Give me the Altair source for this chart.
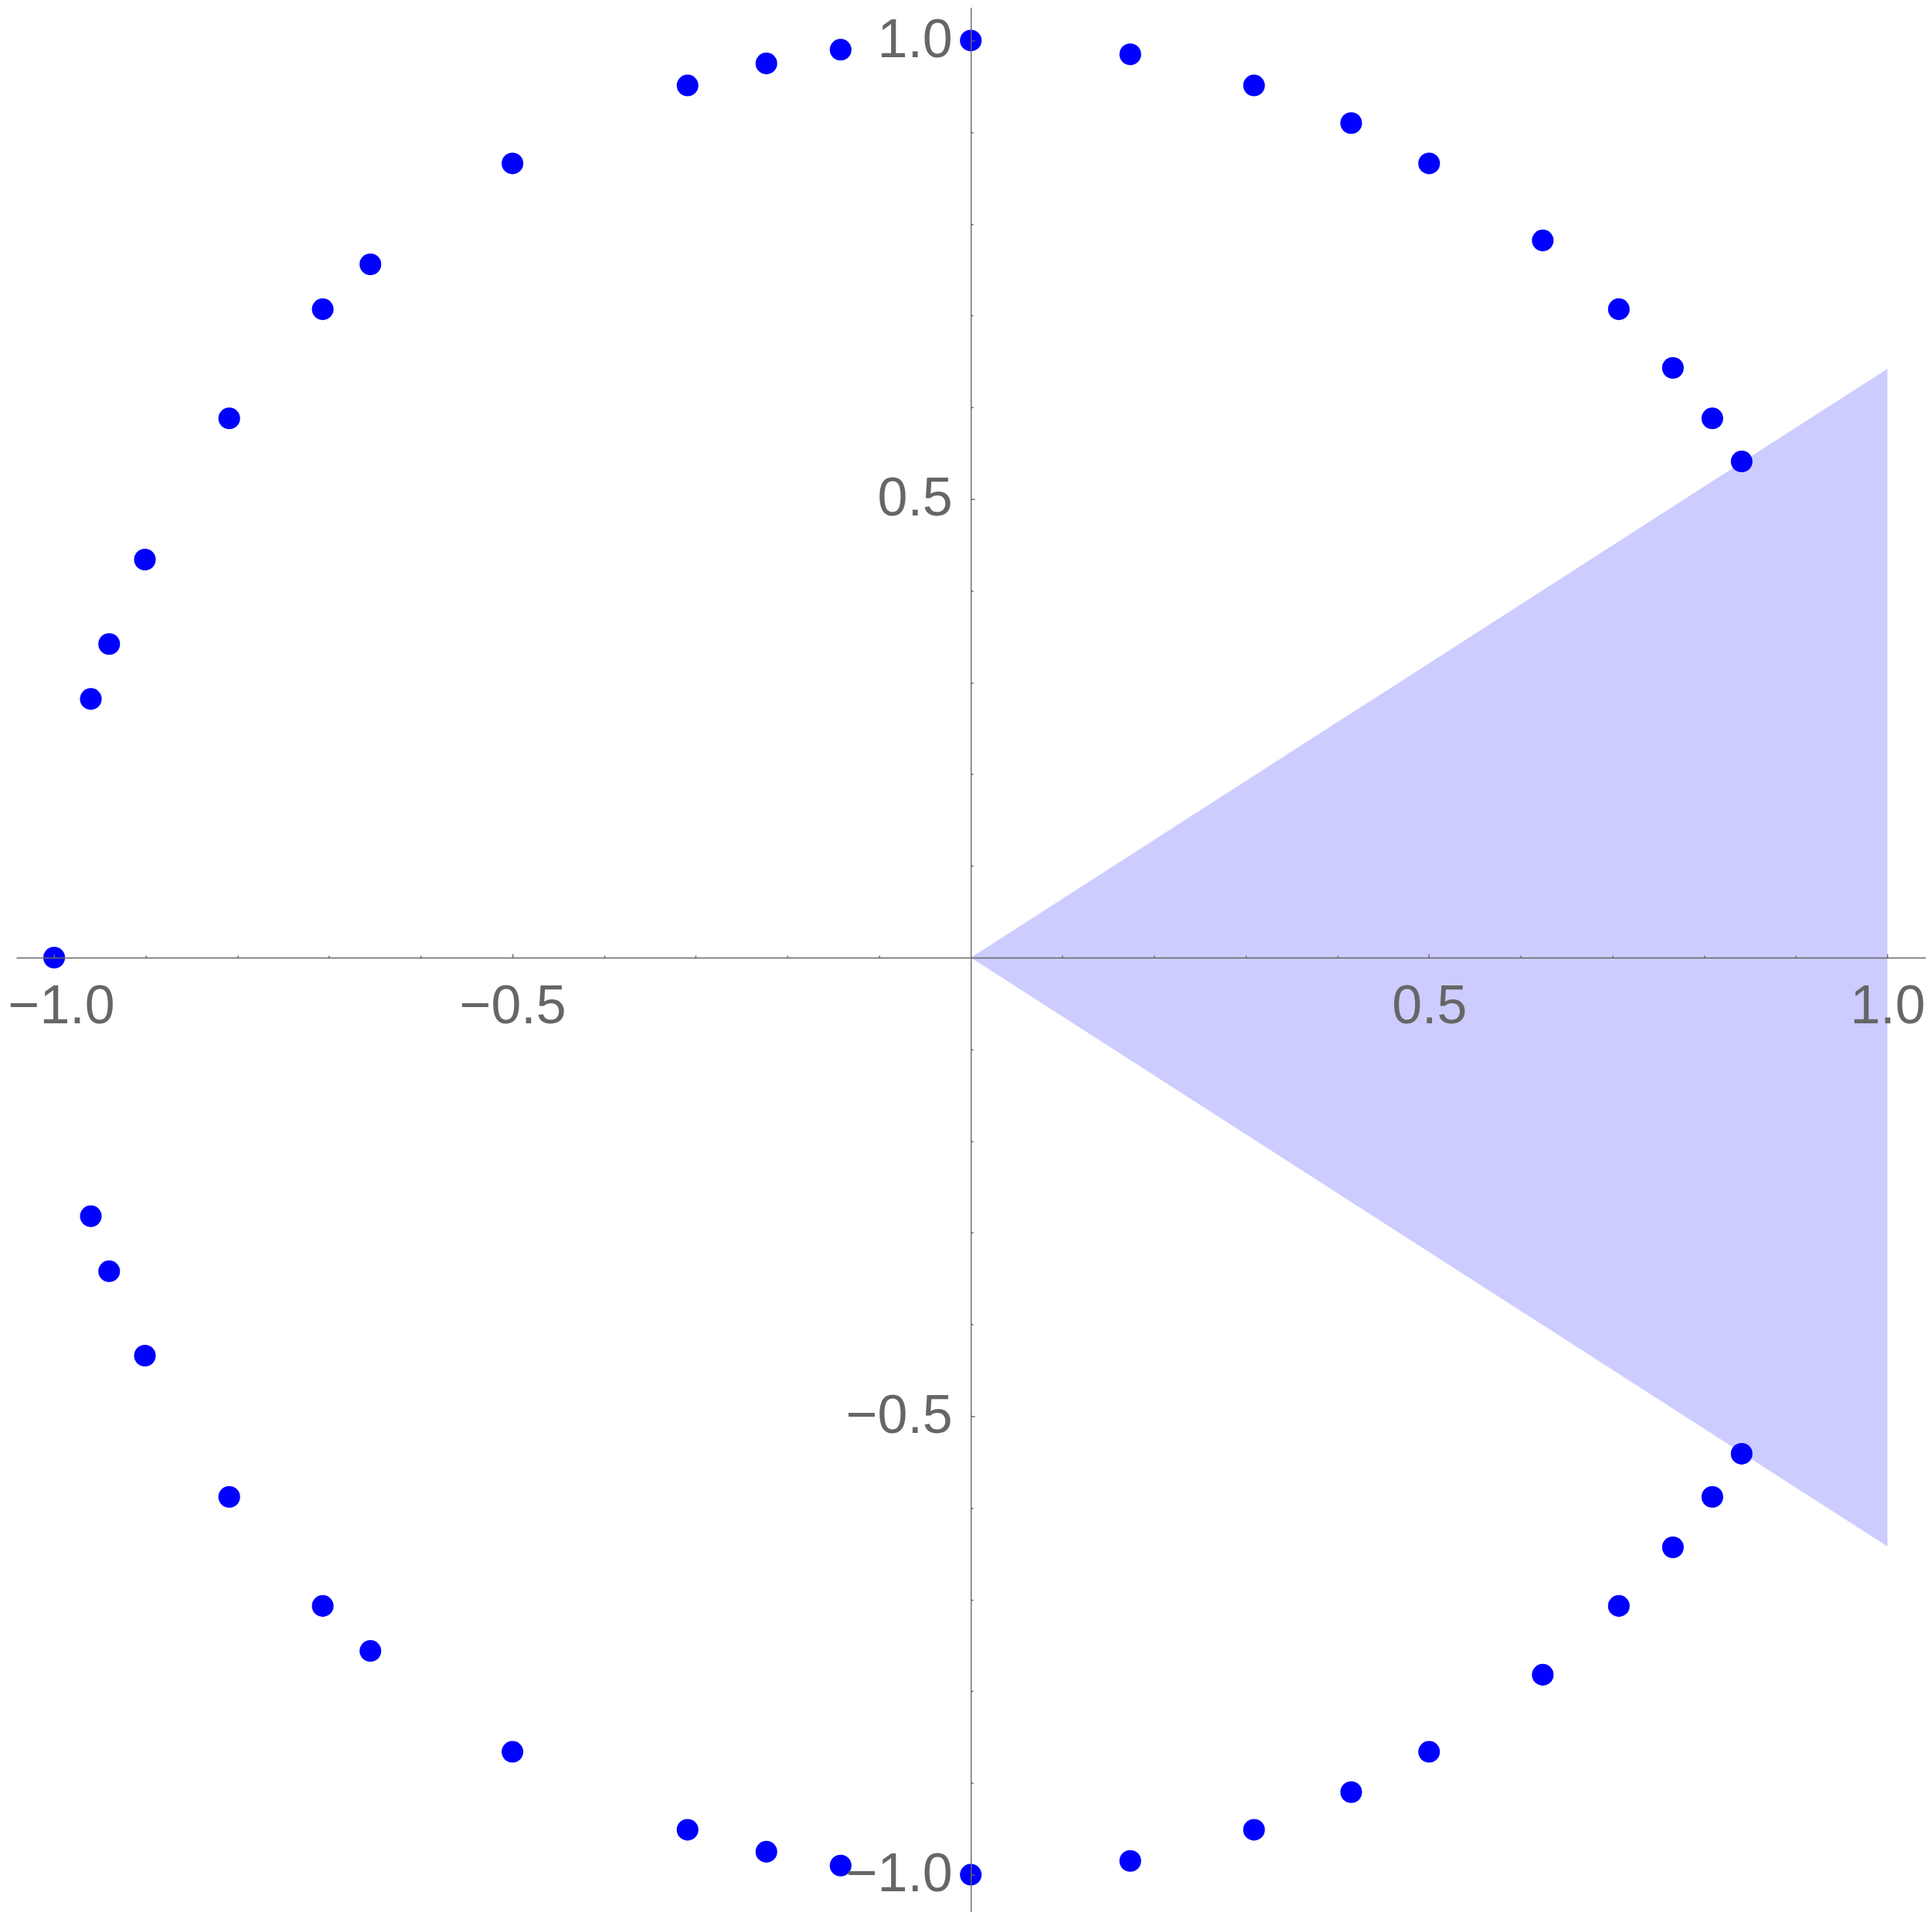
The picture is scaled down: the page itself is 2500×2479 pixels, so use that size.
import altair as alt
import pandas as pd

# Points (upper half, then lower half)
px = [0.0, -0.142, -0.223, -0.309, -0.5, -0.655, -0.707, -0.809, -0.901, -0.940, -0.960, -1.0,
      0.174, 0.309, 0.415, 0.5, 0.624, 0.707, 0.766, 0.809, 0.841,
      -0.960, -0.940, -0.901, -0.809, -0.707, -0.655, -0.5, -0.309, -0.223, -0.142, 0.0,
      0.174, 0.309, 0.415, 0.5, 0.624, 0.707, 0.766, 0.809, 0.841]
py = [1.0, 0.990, 0.975, 0.951, 0.866, 0.756, 0.707, 0.588, 0.434, 0.342, 0.282, 0.0,
      0.985, 0.951, 0.910, 0.866, 0.782, 0.707, 0.643, 0.588, 0.541,
      -0.282, -0.342, -0.434, -0.588, -0.707, -0.756, -0.866, -0.951, -0.975, -0.990, -1.0,
      -0.985, -0.951, -0.910, -0.866, -0.782, -0.707, -0.643, -0.588, -0.541]

# Shaded triangle: apex at origin, opening to x = 1
tri_x = [0.0, 1.0]
tri_top = [0.0, 0.642]
tri_bot = [0.0, -0.642]

major_ticks = [-1.0, -0.5, 0.5, 1.0]
minor_ticks = [-0.9, -0.8, -0.7, -0.6, -0.4, -0.3, -0.2, -0.1,
               0.1, 0.2, 0.3, 0.4, 0.6, 0.7, 0.8, 0.9]

W, H = 2474, 2467
xdom = [-1.0414, 1.0419]
ydom = [-1.0404, 1.0362]
x_off = -(ydom[1] / (ydom[1] - ydom[0])) * H      # put x axis at y = 0
y_off = -(W - (-xdom[0]) / (xdom[1] - xdom[0]) * W)  # put y axis at x = 0

GRAY = "#666666"
FONT = "Liberation Sans"

xscale = alt.Scale(domain=xdom, nice=False, zero=False)
yscale = alt.Scale(domain=ydom, nice=False, zero=False)

common_axis = dict(grid=False, title=None, zindex=1, tickColor=GRAY, tickWidth=1.4,
                   domainColor=GRAY, domainWidth=1.4)

x_major = alt.Axis(orient="top", offset=x_off, values=major_ticks, tickSize=5,
                   labelFont=FONT, labelFontSize=70, labelColor=GRAY, format=".1f",
                   labelPadding=-90, labelBaseline="alphabetic", labelFlush=False,
                   labelOverlap=False,
                   labelOffset={"condition": {"test": "datum.value == -1", "value": 9}, "value": 0},
                   **common_axis)
y_major = alt.Axis(orient="right", offset=y_off, values=major_ticks, tickSize=5,
                   labelFont=FONT, labelFontSize=70, labelColor=GRAY, format=".1f",
                   labelPadding=-29, labelAlign="right", labelBaseline="middle",
                   labelFlush=False, labelOverlap=False, **common_axis)
x_minor = alt.Axis(orient="top", offset=x_off, values=minor_ticks, tickSize=3,
                   labels=False, domain=False, **common_axis)
y_minor = alt.Axis(orient="right", offset=y_off, values=minor_ticks, tickSize=3,
                   labels=False, domain=False, **common_axis)

tri_df = pd.DataFrame({"x": tri_x, "top": tri_top, "bot": tri_bot})
pts_df = pd.DataFrame({"x": px, "y": py})

area = alt.Chart(tri_df).mark_area(color="#CCCCFF", opacity=1).encode(
    x=alt.X("x:Q", scale=xscale, axis=x_major),
    y=alt.Y("top:Q", scale=yscale, axis=y_major),
    y2="bot:Q",
)

points = alt.Chart(pts_df).mark_circle(color="#0000FF", opacity=1, size=790).encode(
    x=alt.X("x:Q", scale=xscale, axis=x_minor),
    y=alt.Y("y:Q", scale=yscale, axis=y_minor),
)

chart = alt.layer(area, points).resolve_axis(x="independent", y="independent").properties(
    width=W, height=H, autosize="none",
    padding={"left": 13, "top": 0, "right": 0, "bottom": 0},
    background="white",
).configure_view(stroke=None)

chart.save("out.html", embed_options={"renderer": "svg", "actions": False})
